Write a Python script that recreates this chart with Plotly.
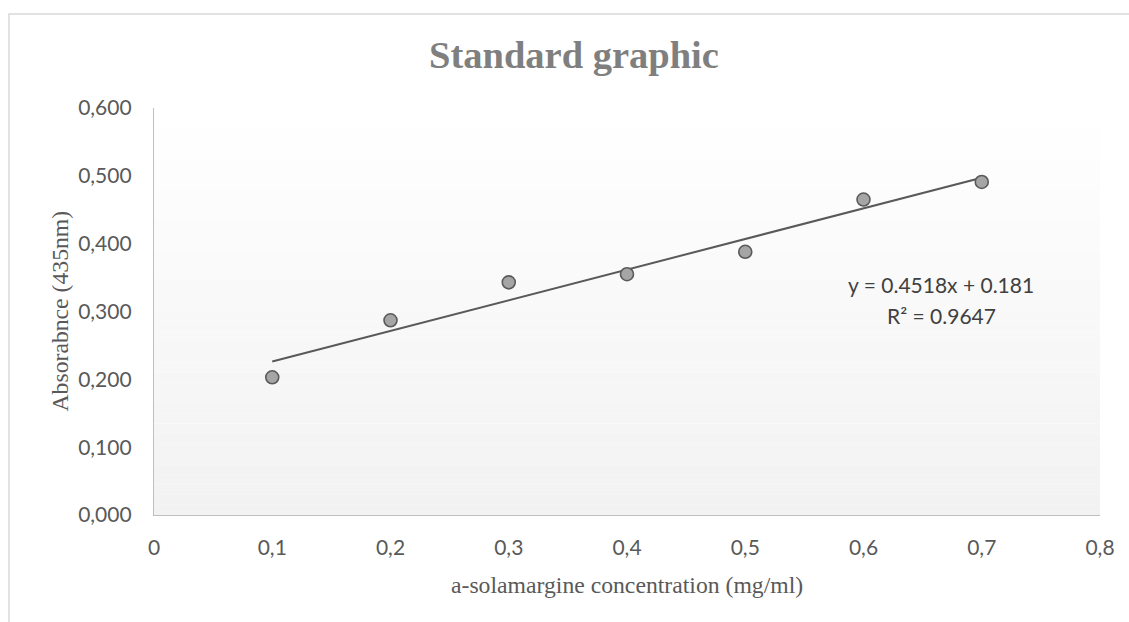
import numpy as np
import plotly.graph_objects as go

# ---- data ----
concentration = [0.1, 0.2, 0.3, 0.4, 0.5, 0.6, 0.7]
absorbance = [0.203, 0.287, 0.343, 0.355, 0.388, 0.465, 0.491]
y_ticks = [0.0, 0.1, 0.2, 0.3, 0.4, 0.5, 0.6]
x_ticks = [0, 0.1, 0.2, 0.3, 0.4, 0.5, 0.6, 0.7, 0.8]
x_tick_labels = ["0", "0,1", "0,2", "0,3", "0,4", "0,5", "0,6", "0,7", "0,8"]
y_tick_labels = ["0,000", "0,100", "0,200", "0,300", "0,400", "0,500", "0,600"]
title_text = "Standard graphic"
x_title = "a-solamargine concentration (mg/ml)"
y_title = "Absorabnce (435nm)"
eq_line1 = "y = 0.4518x + 0.181"
eq_line2 = "R² = 0.9647"

# linear trendline (least squares, as in the spreadsheet)
slope, intercept = np.polyfit(concentration, absorbance, 1)
trend_x = [min(concentration), max(concentration)]
trend_y = [slope * v + intercept for v in trend_x]

W, H = 1129, 622
ML, MR, MT, MB = 154, 29, 108, 107

fig = go.Figure()

fig.add_trace(go.Scatter(
    x=trend_x, y=trend_y, mode="lines",
    line=dict(color="#595959", width=2),
    hoverinfo="skip", showlegend=False,
))
fig.add_trace(go.Scatter(
    x=concentration, y=absorbance, mode="markers",
    marker=dict(size=13, color="#a5a5a5", line=dict(color="#5a5a5a", width=1.6)),
    showlegend=False,
))

# plot-area vertical gradient (white -> light gray)
shapes = []
n = 40
for i in range(n):
    t = (i + 0.5) / n  # 0 at bottom, 1 at top
    c = int(round(242 + (255 - 242) * t))
    shapes.append(dict(
        type="rect", xref="x domain", yref="y domain",
        x0=0, x1=1, y0=i / n, y1=(i + 1) / n,
        fillcolor=f"rgb({c},{c},{c})", line=dict(width=0), layer="below",
    ))

# outer chart border
pw, ph = W - ML - MR, H - MT - MB
shapes.append(dict(
    type="rect", xref="paper", yref="paper",
    x0=(9 - ML) / pw, x1=1.06, y0=-0.4, y1=1 + (MT - 14) / ph,
    line=dict(color="#d9d9d9", width=1.5), fillcolor="rgba(0,0,0,0)", layer="below",
))

annotations = [
    dict(text=f"<b>{title_text}</b>", xref="paper", yref="paper",
         x=(574 - ML) / pw, y=1 + (MT - 55) / ph, xanchor="center", yanchor="middle",
         showarrow=False, font=dict(family="Liberation Serif", size=38.5, color="#7f7f7f")),
    dict(text=x_title, xref="paper", yref="paper",
         x=0.5, y=-(585 - (H - MB)) / ph, xanchor="center", yanchor="middle",
         showarrow=False, font=dict(family="Liberation Serif", size=23.7, color="#595959")),
    dict(text=y_title, xref="paper", yref="paper", textangle=-90,
         x=(59 - ML) / pw, y=0.5, xanchor="center", yanchor="middle",
         showarrow=False, font=dict(family="Liberation Serif", size=23.7, color="#595959")),
    dict(text=eq_line1, xref="paper", yref="paper",
         x=(941 - ML) / pw, y=1 - (284 - MT) / ph, xanchor="center", yanchor="middle",
         showarrow=False, font=dict(family="Lato", size=21, color="#404040")),
    dict(text=eq_line2, xref="paper", yref="paper",
         x=(941 - ML) / pw, y=1 - (315 - MT) / ph, xanchor="center", yanchor="middle",
         showarrow=False, font=dict(family="Lato", size=21, color="#404040")),
]

fig.update_layout(
    width=W, height=H,
    margin=dict(l=ML, r=MR, t=MT, b=MB, autoexpand=False),
    paper_bgcolor="white", plot_bgcolor="rgba(0,0,0,0)",
    shapes=shapes, annotations=annotations,
    showlegend=False,
)
fig.update_xaxes(
    range=[0, 0.8], tickvals=x_ticks, ticktext=x_tick_labels,
    showgrid=False, zeroline=False, showline=True, linecolor="#bfbfbf", linewidth=1.3,
    ticks="", ticklabelstandoff=14,
    tickfont=dict(family="Lato", size=21, color="#595959"),
)
fig.update_yaxes(
    range=[0, 0.6], tickvals=y_ticks, ticktext=y_tick_labels,
    showgrid=False, zeroline=False, showline=True, linecolor="#bfbfbf", linewidth=1.3,
    ticks="", ticklabelstandoff=17,
    tickfont=dict(family="Lato", size=21, color="#595959"),
)

fig.write_html(
    "out.html",
    config={"displayModeBar": False},
    post_script="document.body.style.margin='0';document.body.style.overflow='hidden';",
)
